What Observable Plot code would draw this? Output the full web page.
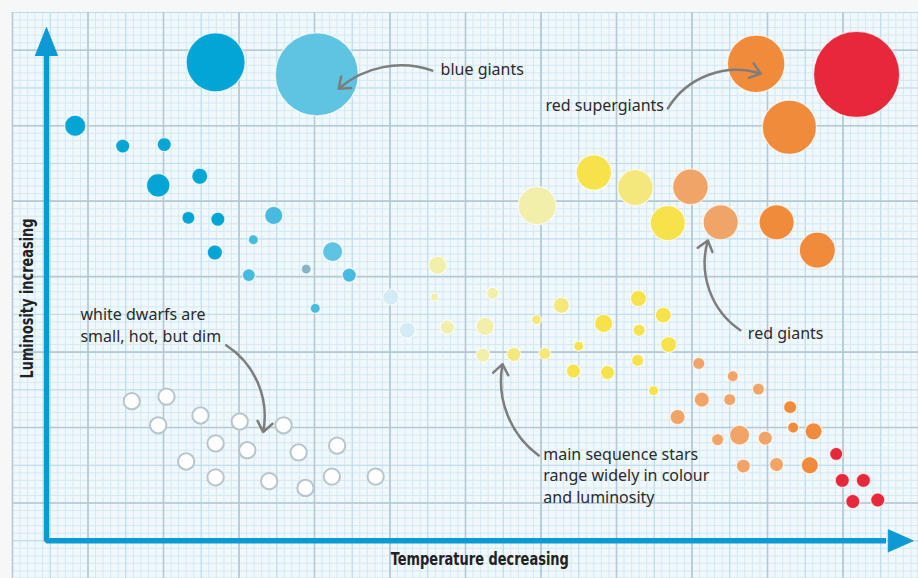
<!DOCTYPE html>
<html><head><meta charset="utf-8">
<script src="https://cdn.jsdelivr.net/npm/d3@7"></script>
<script src="https://cdn.jsdelivr.net/npm/@observablehq/plot@0.6"></script>
<style>
html,body{margin:0;padding:0;background:#f6f7f7;}
#chart{width:918px;height:578px;overflow:hidden;}
g[font-weight="bold"]{font-stretch:condensed;}
</style></head><body><div id="chart"></div>
<script>
// x = temperature index (increasing to the right = cooler), y = luminosity index, size = star radius (grid units)
// each star: [temperature, luminosity, size, spectral class]
const blueStars = [
  [26.9,63.4,3.9,"O"],[40.3,61.8,5.5,"B2"],[8.3,55.0,1.4,"O"],[14.6,52.3,0.93,"O"],
  [20.1,52.5,0.93,"O"],[19.3,47.1,1.55,"O"],[24.8,48.3,1.06,"O"],[23.3,42.8,0.86,"O"],
  [27.2,42.6,0.93,"O"],[34.6,43.1,1.2,"B"],[31.9,39.9,0.66,"B"],[26.8,38.2,1.0,"O"],
  [42.4,38.3,1.32,"B2"],[31.3,35.2,0.86,"B"],[38.9,36.0,0.66,"Bg"],[44.6,35.2,0.93,"B"],
  [40.1,30.8,0.66,"B"],[50.1,32.3,1.06,"A"],[52.3,27.9,1.06,"A"]
];
const mainSequence = [
  [56.3,36.5,1.2,"F"],[55.9,32.3,0.53,"F"],[57.6,28.3,0.93,"F"],[63.6,32.8,0.8,"F"],
  [62.6,28.4,1.2,"F"],[62.3,24.6,0.93,"F"],[66.4,24.7,0.93,"F2"],[69.4,29.3,0.66,"F2"],
  [72.7,31.2,1.06,"F2"],[70.5,24.8,0.8,"F2"],[75.0,25.8,0.66,"G"],[74.3,22.5,0.93,"G"],
  [78.3,28.8,1.2,"G"],[78.8,22.3,0.93,"G"],[82.9,32.1,1.06,"G"],[86.2,29.9,1.06,"G"],
  [83.0,27.9,0.8,"G"],[86.9,26.0,1.06,"G"],[82.8,23.9,0.8,"G"],[84.9,19.9,0.66,"G"],
  [90.9,23.5,0.8,"K"],[95.4,21.8,0.73,"K"],[98.8,20.1,0.8,"K"],[91.3,18.7,1.0,"K"],
  [95.0,18.7,0.8,"K"],[88.1,16.4,1.0,"K"],[103.0,17.7,0.86,"K2"],[103.4,15.0,0.73,"K2"],
  [106.1,14.5,1.13,"K2"],[93.4,13.4,0.8,"K"],[96.3,14.0,1.32,"K"],[99.7,13.6,0.93,"K"],
  [96.8,9.9,0.93,"K"],[101.2,10.1,0.93,"K"],[105.6,10.0,1.13,"K2"],[109.1,11.5,0.86,"M"],
  [109.9,8.0,0.93,"M"],[112.7,8.0,0.93,"M"],[111.3,5.2,0.93,"M"],[114.6,5.4,0.93,"M"]
];
const giants = [
  [98.5,63.2,3.8,"K2"],[111.8,61.8,5.7,"M"],[102.9,54.8,3.58,"K2"],[77.0,48.8,2.34,"G"],
  [69.5,44.4,2.52,"F"],[82.5,46.8,2.36,"F2"],[89.8,46.9,2.36,"K"],[86.8,42.1,2.32,"G"],
  [93.8,42.2,2.32,"K"],[101.2,42.2,2.32,"K2"],[106.6,38.5,2.38,"K2"]
];
const whiteDwarfs = [
  [15.8,18.5],[20.4,19.1],[19.3,15.3],[24.9,16.6],[30.1,15.8],[35.9,15.3],[26.9,12.9],[31.1,12.0],
  [37.9,11.7],[43.0,12.6],[23.0,10.5],[26.9,8.4],[34.0,7.9],[38.8,7.0],[42.3,8.5],[48.1,8.5]
];
const dwarfSize = 1.08;

const noteText = ["blue giants","red supergiants","red giants","white dwarfs are\nsmall, hot, but dim","main sequence stars\nrange widely in colour\nand luminosity"];
const noteX = [56.7,70.6,97.4,9.0,70.3];
const noteY = [62.6,57.9,27.6,28.7,8.8];
const arrowFrom = [[55.6,62.3],[86.8,57.3],[96.4,27.9],[28.3,25.9],[69.7,11.3]];
const arrowTo = [[43.2,59.9],[99.1,61.9],[92.1,39.8],[33.2,14.4],[64.9,23.4]];
const arrowBend = [-30,38,36,34,32];

const axisLabels = ["Luminosity increasing","Temperature decreasing"];
const axisLabelLengths = [160, 178];

// styling
const classes = ["O","B","B2","Bg","A","F","F2","G","K","K2","M"];
const classColours = ["#02a6d6","#47bbdf","#5fc4e1","#86b6c6","#d3ebf5","#f2efaa","#f4e87c","#f6e24a","#f1a468","#f08b3c","#e6283a"];
const axisBlue = "#0c9ad4";
const xMin = 0, xMax = 120, yMin = -5, yMax = 70;
const axisX = 4.5, axisY = 0, yTip = 68.0, yHeadBase = 64.3, xTip = 119.3, xHeadBase = 116.0, headHalf = 1.46;
const labelFont = "'Liberation Sans Narrow', 'DejaVu Sans Condensed', 'DejaVu Sans', sans-serif";
const noteFont = "'Noto Sans', 'Open Sans', sans-serif";

const allStars = [...giants, ...blueStars, ...mainSequence];

const marks = [
  Plot.rect([0], {x1: xMin, x2: xMax, y1: yMin, y2: yMax, fill: "#f1f8fb"}),
  Plot.ruleX(d3.range(xMin, xMax + 1, 1), {y1: yMin, y2: yMax, stroke: "#d3e9f4", strokeWidth: 1}),
  Plot.ruleY(d3.range(yMin, yMax + 1, 1), {x1: xMin, x2: xMax, stroke: "#d3e9f4", strokeWidth: 1}),
  Plot.ruleX(d3.range(xMin, xMax + 1, 5), {y1: yMin, y2: yMax, stroke: "#bcdceb", strokeWidth: 1}),
  Plot.ruleY(d3.range(yMin, yMax + 1, 5), {x1: xMin, x2: xMax, stroke: "#bcdceb", strokeWidth: 1}),
  Plot.ruleX(d3.range(xMin, xMax + 1, 10), {y1: yMin, y2: yMax, stroke: "#b3cad6", strokeWidth: 1.6}),
  Plot.ruleY(d3.range(yMin, yMax + 1, 10), {x1: xMin, x2: xMax, stroke: "#b3cad6", strokeWidth: 1.6}),
  // axes
  Plot.line([[axisX, yHeadBase + 0.3], [axisX, axisY], [xHeadBase - 0.3, axisY]], {stroke: axisBlue, strokeWidth: 5.5, strokeLinejoin: "miter", strokeLinecap: "butt"}),
  Plot.line([[axisX - headHalf, yHeadBase], [axisX + headHalf, yHeadBase], [axisX, yTip], [axisX - headHalf, yHeadBase]], {fill: axisBlue, stroke: axisBlue, strokeWidth: 1}),
  Plot.line([[xHeadBase, axisY - headHalf], [xHeadBase, axisY + headHalf], [xTip, axisY], [xHeadBase, axisY - headHalf]], {fill: axisBlue, stroke: axisBlue, strokeWidth: 1}),
  Plot.text([axisLabels[0]], {x: 2.0, y: 32.1, text: d => d, rotate: -90, fontSize: 17, fontWeight: "bold", fontFamily: labelFont, fill: "#222"}),
  Plot.text([axisLabels[1]], {x: 61.9, y: -2.5, text: d => d, fontSize: 17, fontWeight: "bold", fontFamily: labelFont, fill: "#222"}),
  // stars
  Plot.dot(allStars, {x: d => d[0], y: d => d[1], r: d => d[2], fill: d => d[3], stroke: "white", strokeOpacity: 0.7, strokeWidth: 1.2}),
  Plot.dot(whiteDwarfs, {x: d => d[0], y: d => d[1], r: () => dwarfSize, fill: "white", stroke: "#b7c6cd", strokeWidth: 2}),
  // annotations
  ...arrowFrom.map((f, i) => Plot.arrow([i], {x1: () => f[0], y1: () => f[1], x2: () => arrowTo[i][0], y2: () => arrowTo[i][1], bend: arrowBend[i], stroke: "#7d7d7d", strokeWidth: 2.5, headLength: 7.5, headAngle: 75})),
  Plot.text(noteText, {x: (d, i) => noteX[i], y: (d, i) => noteY[i], text: d => d, textAnchor: "start", lineAnchor: "middle", lineHeight: 1.36, fontSize: 16, fontFamily: noteFont, fill: "#2b2b2b"})
];

const chart = Plot.plot({
  width: 918, height: 578,
  marginTop: 0, marginRight: 0, marginBottom: 0, marginLeft: 0,
  x: {domain: [xMin, xMax], range: [12, 918], axis: null},
  y: {domain: [yMin, yMax], range: [578, 12], axis: null},
  r: {type: "linear", domain: [0, 1], range: [0, 7.55]},
  color: {type: "ordinal", domain: classes, range: classColours},
  style: {background: "transparent", overflow: "visible"},
  marks
});
// condense the bold axis labels to the reference's condensed face
d3.select(chart).selectAll("text").each(function() {
  const i = axisLabels.indexOf(this.textContent);
  if (i >= 0) d3.select(this).attr("textLength", axisLabelLengths[i]).attr("lengthAdjust", "spacingAndGlyphs");
});
document.getElementById("chart").appendChild(chart);
</script></body></html>
